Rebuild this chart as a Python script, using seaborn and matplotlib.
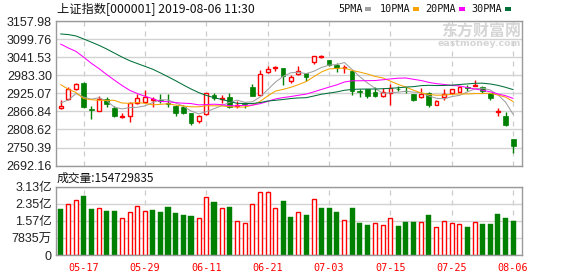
import matplotlib
matplotlib.use("Agg")
import matplotlib.pyplot as plt
from matplotlib.patches import Rectangle
import seaborn as sns
import pandas as pd

sns.set_style("white")
plt.rcParams['font.family'] = ['Noto Sans CJK SC', 'DejaVu Sans']

# ---------------- data ----------------
dates = ["05-14", "05-15", "05-16", "05-17", "05-20", "05-21", "05-22", "05-23", "05-24", "05-27",
         "05-28", "05-29", "05-30", "05-31", "06-03", "06-04", "06-05", "06-06", "06-10", "06-11",
         "06-12", "06-13", "06-14", "06-17", "06-18", "06-19", "06-20", "06-21", "06-24", "06-25",
         "06-26", "06-27", "06-28", "07-01", "07-02", "07-03", "07-04", "07-05", "07-08", "07-09",
         "07-10", "07-11", "07-12", "07-15", "07-16", "07-17", "07-18", "07-19", "07-22", "07-23",
         "07-24", "07-25", "07-26", "07-29", "07-30", "07-31", "08-01", "08-02", "08-05", "08-06"]

opens = [2876.8, 2905.8, 2937.9, 2959.4, 2876.0, 2869.3, 2906.8, 2878.9, 2849.0, 2852.0,
         2892.9, 2898.2, 2903.0, 2903.0, 2895.0, 2884.3, 2880.0, 2860.7, 2834.9, 2857.5,
         2919.0, 2906.0, 2912.2, 2884.0, 2895.0, 2946.6, 2920.8, 2992.7, 3005.0, 3005.6,
         2965.0, 2986.3, 2991.6, 3027.0, 3041.0, 3032.4, 3016.3, 3005.6, 2998.1, 2931.0,
         2937.9, 2930.4, 2917.6, 2927.2, 2940.0, 2934.0, 2923.0, 2912.2, 2927.2, 2888.6,
         2912.2, 2925.1, 2930.4, 2944.0, 2950.0, 2944.4, 2925.1, 2864.0, 2853.2, 2778.0]
highs = [2905.0, 2944.4, 2959.0, 2960.0, 2884.0, 2917.6, 2912.0, 2884.3, 2860.0, 2898.2,
         2922.9, 2935.8, 2914.3, 2922.9, 2923.0, 2886.0, 2887.5, 2861.5, 2855.3, 2927.2,
         2927.0, 2919.7, 2927.2, 2899.3, 2898.2, 2955.1, 3000.2, 3013.1, 3013.1, 3006.0,
         2984.1, 3013.1, 2992.0, 3046.0, 3049.6, 3033.0, 3021.7, 3016.3, 2999.0, 2937.9,
         2938.5, 2944.4, 2941.2, 2955.1, 2948.7, 2946.6, 2923.5, 2941.2, 2928.0, 2902.0,
         2937.9, 2939.0, 2947.0, 2950.8, 2968.0, 2948.7, 2926.0, 2876.8, 2866.0, 2778.5]
lows = [2875.0, 2903.0, 2936.0, 2877.0, 2841.4, 2868.0, 2880.0, 2847.8, 2845.0, 2833.9,
        2890.0, 2895.0, 2880.0, 2895.0, 2880.0, 2852.0, 2858.5, 2822.0, 2828.5, 2855.3,
        2903.6, 2892.9, 2878.0, 2879.0, 2876.8, 2917.0, 2918.0, 2990.0, 2998.0, 2951.9,
        2959.4, 2984.0, 2965.9, 3018.5, 3039.9, 3014.0, 2994.8, 2991.6, 2919.7, 2914.3,
        2911.1, 2914.3, 2912.2, 2887.5, 2932.6, 2927.2, 2900.0, 2911.0, 2882.1, 2887.0,
        2903.6, 2924.0, 2929.0, 2932.6, 2950.0, 2927.2, 2903.6, 2853.2, 2820.0, 2734.0]
closes = [2883.6, 2938.7, 2955.7, 2882.3, 2870.6, 2906.0, 2891.7, 2852.5, 2853.0, 2892.4,
          2909.9, 2914.7, 2905.8, 2898.7, 2890.1, 2862.3, 2861.4, 2827.8, 2852.1, 2925.7,
          2909.4, 2910.7, 2882.0, 2887.6, 2890.2, 2917.8, 2987.1, 3002.0, 3008.2, 2982.1,
          2976.3, 2996.8, 2978.9, 3044.9, 3043.9, 3015.3, 3005.3, 3011.1, 2933.4, 2928.2,
          2915.3, 2917.8, 2930.6, 2942.2, 2937.6, 2931.7, 2902.0, 2924.2, 2887.0, 2899.9,
          2923.3, 2937.4, 2944.5, 2941.0, 2952.3, 2932.5, 2908.8, 2867.8, 2821.5, 2755.0]

ma5 = [2894.2, 2903.2, 2924.2, 2912.8, 2906.2, 2910.7, 2901.3, 2880.6, 2874.8, 2879.1,
       2879.9, 2884.5, 2895.2, 2904.3, 2903.8, 2894.3, 2883.7, 2868.1, 2858.7, 2865.9,
       2875.3, 2885.2, 2896.0, 2903.1, 2896.0, 2897.7, 2912.9, 2936.9, 2961.0, 2979.4,
       2991.1, 2993.1, 2988.4, 2995.8, 3008.2, 3016.0, 3017.6, 3024.1, 3001.8, 2978.6,
       2958.6, 2941.1, 2925.0, 2926.8, 2928.7, 2932.0, 2928.8, 2927.5, 2916.5, 2909.0,
       2907.3, 2914.4, 2918.4, 2929.2, 2939.7, 2941.6, 2935.8, 2920.5, 2896.6, 2857.1]
ma10 = [2953.1, 2938.4, 2927.7, 2908.1, 2904.5, 2902.5, 2902.2, 2902.4, 2893.8, 2892.6,
        2895.3, 2892.9, 2887.9, 2889.5, 2891.5, 2887.1, 2884.1, 2881.6, 2881.5, 2884.9,
        2884.8, 2884.4, 2882.0, 2880.9, 2880.9, 2886.5, 2899.0, 2916.5, 2932.1, 2937.7,
        2944.4, 2953.0, 2962.7, 2978.4, 2993.8, 3003.5, 3005.4, 3006.3, 2998.8, 2993.4,
        2987.3, 2979.4, 2974.6, 2964.3, 2953.7, 2945.3, 2935.0, 2926.3, 2921.6, 2918.8,
        2919.6, 2921.6, 2923.0, 2922.9, 2924.3, 2924.4, 2925.1, 2919.5, 2912.9, 2898.4]
ma20 = [3083.7, 3071.2, 3060.1, 3041.6, 3021.9, 3004.7, 2985.8, 2967.6, 2950.4, 2934.9,
        2924.2, 2915.6, 2907.8, 2898.8, 2898.0, 2894.8, 2893.2, 2892.0, 2887.7, 2888.8,
        2890.0, 2888.6, 2885.0, 2885.2, 2886.2, 2886.8, 2891.6, 2899.0, 2906.8, 2911.3,
        2914.6, 2918.7, 2922.4, 2929.7, 2937.4, 2945.0, 2952.2, 2961.4, 2965.4, 2965.5,
        2965.8, 2966.2, 2968.6, 2971.4, 2973.7, 2974.4, 2970.2, 2966.3, 2960.2, 2956.1,
        2953.5, 2950.5, 2948.8, 2943.6, 2939.0, 2934.9, 2930.0, 2922.9, 2917.3, 2908.6]
ma30 = [3116.2, 3114.3, 3109.8, 3100.2, 3090.0, 3079.7, 3067.9, 3054.8, 3041.9, 3030.2,
        3020.9, 3011.8, 3002.7, 2990.9, 2978.4, 2965.5, 2951.9, 2939.0, 2927.4, 2918.2,
        2911.1, 2905.2, 2899.2, 2892.8, 2892.3, 2892.0, 2895.1, 2900.2, 2902.5, 2905.1,
        2908.2, 2910.1, 2910.9, 2916.3, 2922.1, 2925.7, 2929.5, 2934.8, 2937.5, 2938.6,
        2938.8, 2938.9, 2939.8, 2941.2, 2942.8, 2945.1, 2946.5, 2949.7, 2950.8, 2950.0,
        2950.4, 2951.3, 2953.4, 2955.2, 2957.3, 2957.7, 2955.1, 2950.7, 2944.4, 2936.9]

# volume in 亿 (1e8) shares; up = close above previous close
volume = [2.13, 2.33, 2.51, 2.71, 2.13, 2.16, 2.02, 2.02, 1.70, 1.96,
          2.24, 2.02, 2.07, 1.97, 2.20, 1.93, 1.84, 1.79, 1.69, 2.65,
          2.42, 2.14, 2.20, 1.55, 1.45, 2.33, 2.91, 2.91, 2.14, 2.46,
          1.74, 1.96, 1.84, 2.56, 2.16, 2.16, 1.97, 1.59, 2.16, 1.47,
          1.38, 1.45, 1.36, 1.68, 1.33, 1.52, 1.52, 1.50, 1.84, 1.27,
          1.55, 1.45, 1.41, 1.29, 1.50, 1.42, 1.42, 1.88, 1.70, 1.547]
vol_up = [0, 1, 1, 0, 0, 1, 0, 0, 1, 1,
          1, 1, 0, 0, 0, 0, 0, 0, 1, 1,
          0, 1, 0, 1, 1, 1, 1, 1, 1, 0,
          0, 1, 0, 1, 0, 0, 0, 1, 0, 0,
          0, 1, 1, 1, 0, 0, 0, 1, 0, 1,
          1, 1, 1, 0, 1, 0, 0, 0, 0, 0]

price_ticks = [2692.16, 2750.39, 2808.62, 2866.84, 2925.07, 2983.30, 3041.53, 3099.76, 3157.98]
vol_ticks = [0, 0.7835, 1.567, 2.3505, 3.134]
vol_tick_labels = ["0", "7835万", "1.57亿", "2.35亿", "3.13亿"]
date_tick_labels = ["05-17", "05-29", "06-11", "06-21", "07-03", "07-15", "07-25", "08-06"]
title_text = "上证指数[000001] 2019-08-06 11:30"
vol_title = "成交量:154729835"
ma_names = ["5PMA", "10PMA", "20PMA", "30PMA"]
ma_colors = ["#a0a0a0", "#f5a300", "#ff00ff", "#00703a"]

RED = "#ff0000"
GREEN = "#008000"
GRID = "#d2d2d2"
FRAME = "#9a9a9a"

# ---------------- figure ----------------
W, H = 578, 276
fig = plt.figure(figsize=(W / 100, H / 100), dpi=100)
L, R = 56, 522
ax = fig.add_axes([L / W, 1 - 165.6 / H, (R - L) / W, (165.6 - 21) / H])
axv = fig.add_axes([L / W, 1 - 255 / H, (R - L) / W, (255 - 186.7) / H])

n = len(dates)
idx = list(range(n))
tick_pos = [dates.index(d) for d in date_tick_labels]

# candles
for i in idx:
    o, h, l, c = opens[i], highs[i], lows[i], closes[i]
    up = c >= o
    col = RED if up else GREEN
    top, bot = max(o, c), min(o, c)
    if top - bot < 1.3:
        ax.vlines(i, l, h, color=col, lw=1.0, zorder=3)
        ax.hlines((o + c) / 2, i - 0.33, i + 0.33, color=col, lw=1.4, zorder=3)
    elif up:
        ax.vlines(i, top, h, color=col, lw=1.0, zorder=3)
        ax.vlines(i, l, bot, color=col, lw=1.0, zorder=3)
        ax.bar(i, top - bot, bottom=bot, width=0.5, facecolor="white",
               edgecolor=col, linewidth=1.0, zorder=3)
    else:
        ax.vlines(i, l, h, color=col, lw=1.0, zorder=2)
        ax.bar(i, top - bot, bottom=bot, width=0.62, facecolor=col,
               edgecolor=col, linewidth=0.5, zorder=3)

# moving averages
ma_df = pd.DataFrame({"idx": idx, "5PMA": ma5, "10PMA": ma10, "20PMA": ma20, "30PMA": ma30})
ma_long = ma_df.melt(id_vars="idx", value_vars=ma_names, var_name="ma", value_name="val")
sns.lineplot(data=ma_long, x="idx", y="val", hue="ma", hue_order=ma_names,
             palette=dict(zip(ma_names, ma_colors)), linewidth=0.75, ax=ax,
             legend=False, zorder=4)

# volume bars
for i in idx:
    if vol_up[i]:
        axv.bar(i, volume[i], width=0.52, facecolor="white", edgecolor=RED, linewidth=1.0)
    else:
        axv.bar(i, volume[i], width=0.66, facecolor=GREEN, edgecolor=GREEN, linewidth=0.3)

# axes styling
xlim = (-0.6, 60.15)
for a in (ax, axv):
    a.set_xlim(*xlim)
    a.set_xticks(tick_pos)
    a.set_axisbelow(True)
    a.yaxis.grid(True, color=GRID, lw=1.0, ls="-")
    a.xaxis.grid(True, color="#cccccc", lw=0.9, ls=(0, (4, 4)))
    a.tick_params(length=0)
    for s in a.spines.values():
        s.set_color(FRAME)
        s.set_linewidth(1.0)
    a.set_xlabel("")
    a.set_ylabel("")

ax.set_ylim(price_ticks[0], price_ticks[-1])
ax.set_yticks(price_ticks)
ax.set_yticklabels([f"{v:.2f}" for v in price_ticks], fontsize=9,
                   family=["Liberation Sans", "DejaVu Sans"], color="#222222")
ax.set_xticklabels([])
ax.tick_params(axis="y", pad=3)

axv.set_ylim(vol_ticks[0], vol_ticks[-1])
axv.set_yticks(vol_ticks)
axv.set_yticklabels(vol_tick_labels, fontsize=9,
                    family=["Liberation Sans", "Noto Sans CJK SC"], color="#222222")
axv.set_xticklabels(date_tick_labels, fontsize=7.3, family=["DejaVu Sans Mono"], color=RED)
axv.tick_params(axis="y", pad=3)
axv.tick_params(axis="x", pad=6)

# title & volume label
fig.text(57 / W, 1 - 9.5 / H, title_text, fontsize=8.8, va="center", ha="left",
         family=["Noto Sans CJK SC", "DejaVu Sans"], color="#111111")
fig.text(57 / W, 1 - 178 / H, vol_title, fontsize=8.5, va="center", ha="left",
         family=["Noto Sans CJK SC", "DejaVu Sans"], color="#111111")

# legend
leg_x = [338, 380, 425.5, 471.5]
sq_x = [365, 413, 459, 505]
for name, col, tx, sx in zip(ma_names, ma_colors, leg_x, sq_x):
    fig.text(tx / W, 1 - 9.5 / H, name, fontsize=7.3, family=["DejaVu Sans Mono"],
             va="center", ha="left", color="#111111")
    fig.patches.append(Rectangle((sx / W, 1 - 10.5 / H), 5.5 / W, 3 / H,
                                 transform=fig.transFigure, facecolor=col,
                                 edgecolor="none"))

# watermark
fig.text(521 / W, 1 - 31 / H, "东方财富网", fontsize=11.5, fontweight="bold",
         ha="right", va="center", color="#d6d6d6",
         family=["Noto Sans CJK SC"], zorder=0)
fig.text(521 / W, 1 - 43 / H, "eastmoney.com", fontsize=6.8, fontweight="bold",
         ha="right", va="center", color="#d6d6d6", family=["DejaVu Sans"], zorder=0)

fig.savefig("out.png", dpi=100)
